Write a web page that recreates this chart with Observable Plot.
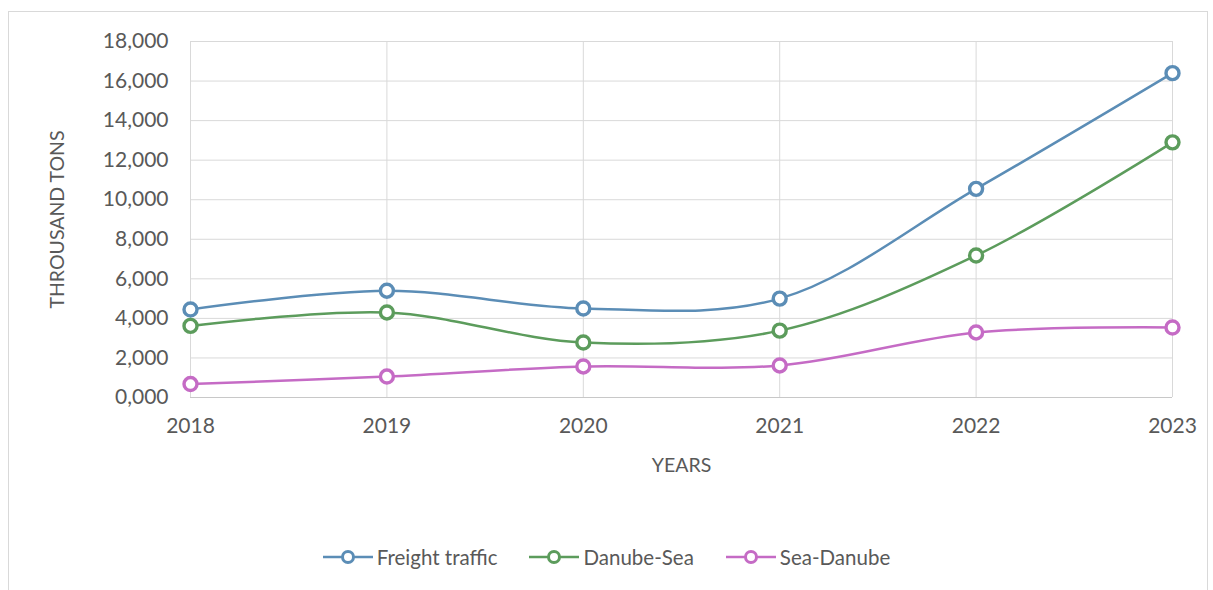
<!DOCTYPE html>
<html>
<head>
<meta charset="utf-8">
<script src="https://cdn.jsdelivr.net/npm/d3@7"></script>
<script src="https://cdn.jsdelivr.net/npm/@observablehq/plot@0.6"></script>
<style>
  html, body { margin: 0; padding: 0; background: #fff; }
  body { width: 1213px; height: 590px; overflow: hidden; position: relative; font-family: Lato, "Open Sans", sans-serif; }
  #frame { position: absolute; left: 8px; top: 11px; width: 1200px; height: 600px; border: 1px solid #d9d9d9; box-sizing: border-box; pointer-events: none; }
  #chart { position: absolute; left: 0; top: 0; }
  #legend { position: absolute; left: 0; top: 545px; width: 1213px; display: flex; justify-content: center; gap: 32px; font-size: 20.5px; color: #595959; }
  .item { display: flex; align-items: center; gap: 4px; }
</style>
</head>
<body>
<div id="frame"></div>
<div id="chart"></div>
<div id="legend"></div>
<script>
const years = [2018, 2019, 2020, 2021, 2022, 2023];
const freightTraffic = [4450, 5400, 4500, 5000, 10550, 16400];
const danubeSea = [3620, 4300, 2780, 3380, 7180, 12900];
const seaDanube = [680, 1060, 1570, 1620, 3290, 3540];
const seriesNames = ["Freight traffic", "Danube-Sea", "Sea-Danube"];
const seriesValues = [freightTraffic, danubeSea, seaDanube];
const seriesColors = ["#5b8db6", "#5c9c5c", "#c56bc5"];
const yTicks = [0, 2000, 4000, 6000, 8000, 10000, 12000, 14000, 16000, 18000];
const yTickLabels = ["0,000", "2,000", "4,000", "6,000", "8,000", "10,000", "12,000", "14,000", "16,000", "18,000"];

const data = [];
seriesNames.forEach((name, i) => {
  years.forEach((yr, j) => data.push({series: name, year: yr, value: seriesValues[i][j]}));
});

const color = {domain: seriesNames, range: seriesColors};

const chart = Plot.plot({
  width: 1213,
  height: 530,
  marginTop: 41,
  marginBottom: 133,
  marginLeft: 190,
  marginRight: 41,
  style: {fontFamily: "Lato, 'Open Sans', sans-serif", fontSize: "21px", color: "#595959", background: "transparent"},
  x: {domain: [2018, 2023], ticks: years, tickFormat: "d"},
  y: {domain: [0, 18000], ticks: yTicks},
  color,
  marks: [
    Plot.gridX(years, {stroke: "#d9d9d9", strokeOpacity: 1, strokeWidth: 1}),
    Plot.gridY(yTicks, {stroke: "#d9d9d9", strokeOpacity: 1, strokeWidth: 1}),
    Plot.ruleY([0], {stroke: "#c8c8c8", strokeWidth: 1}),
    Plot.axisY({ticks: yTicks, tickSize: 0, tickPadding: 22, tickFormat: (d) => yTickLabels[yTicks.indexOf(d)],
      label: null, fontSize: 21}),
    Plot.axisY({ticks: [], tickSize: 0, label: "THROUSAND TONS", labelAnchor: "center", labelArrow: "none", labelOffset: 140, fontSize: 19.5}),
    Plot.axisX({ticks: years, tickSize: 0, tickPadding: 21, tickFormat: "d",
      label: null, fontSize: 21}),
    Plot.axisX({ticks: [], tickSize: 0, label: "YEARS", labelAnchor: "center", labelArrow: "none", labelOffset: 74, fontSize: 19.5}),
    Plot.line(data, {x: "year", y: "value", z: "series", stroke: "series", strokeWidth: 2.5, curve: "catmull-rom"}),
    Plot.dot(data, {x: "year", y: "value", stroke: "series", fill: "white", r: 6.5, strokeWidth: 3.4})
  ]
});
document.getElementById("chart").appendChild(chart);

// legend
const legend = document.getElementById("legend");
seriesNames.forEach((name, i) => {
  const item = document.createElement("div");
  item.className = "item";
  item.innerHTML = `<svg width="50" height="20"><line x1="0" x2="50" y1="10" y2="10" stroke="${seriesColors[i]}" stroke-width="2.5"/><circle cx="25" cy="10" r="5.5" fill="white" stroke="${seriesColors[i]}" stroke-width="3"/></svg><span>${name}</span>`;
  legend.appendChild(item);
});
</script>
</body>
</html>
